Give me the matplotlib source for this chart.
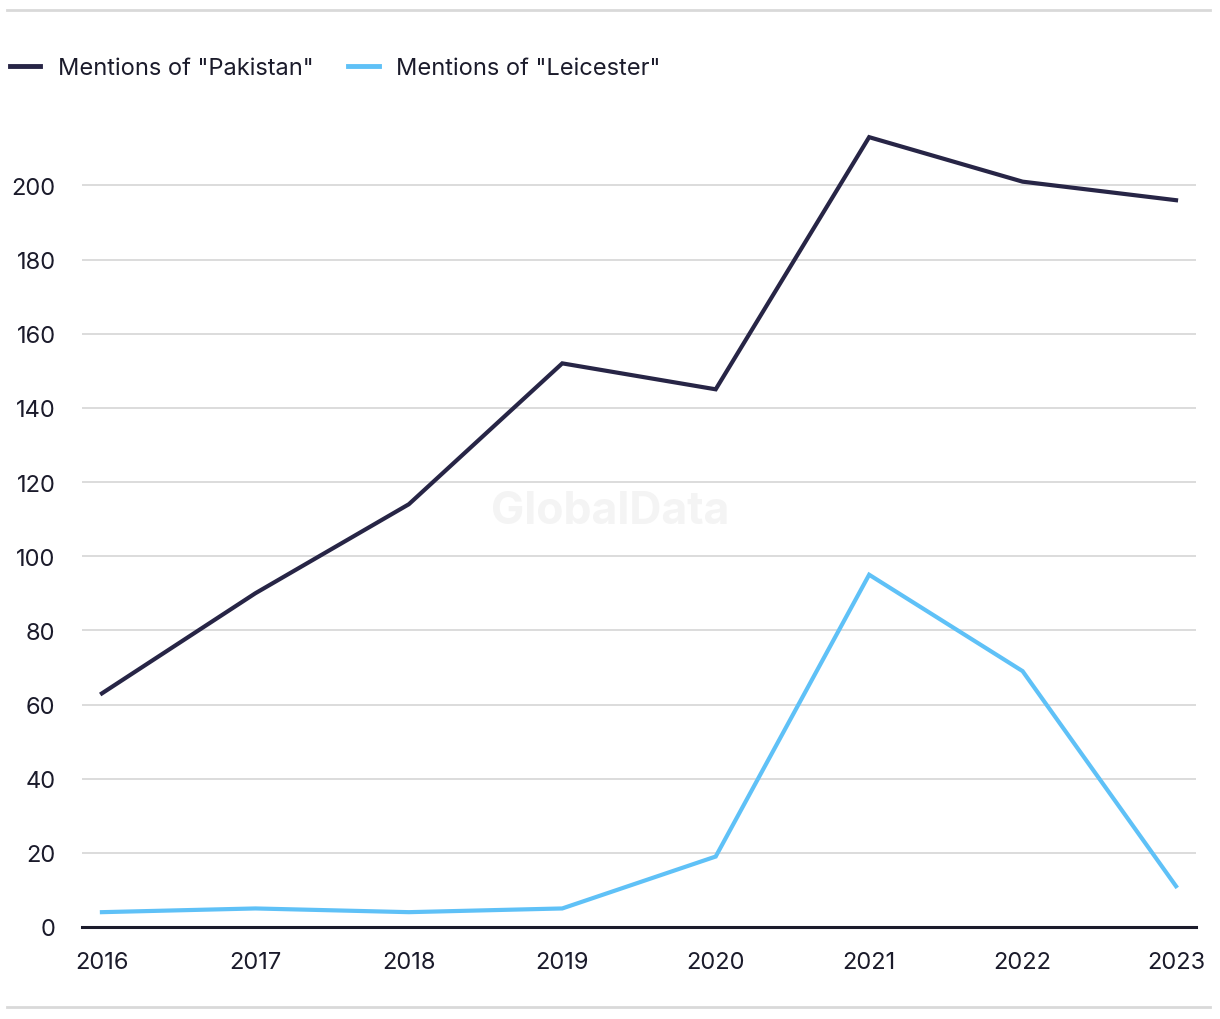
import matplotlib
matplotlib.use("Agg")
import matplotlib.pyplot as plt
from matplotlib.lines import Line2D

# Data
years = [2016, 2017, 2018, 2019, 2020, 2021, 2022, 2023]
pakistan = [63, 90, 114, 152, 145, 213, 201, 196]
leicester = [4, 5, 4, 5, 19, 95, 69, 11]
series_labels = ['Mentions of "Pakistan"', 'Mentions of "Leicester"']
yticks = [0, 20, 40, 60, 80, 100, 120, 140, 160, 180, 200]

dark = "#272546"
light = "#5fc1f7"
text_c = "#1b1b2b"

plt.rcParams["font.family"] = ["Inter", "DejaVu Sans"]

fig = plt.figure(figsize=(12.2, 10.2), dpi=100)
ax = fig.add_axes([0.0672, 0.0902, 0.9131, 0.7998])

ax.plot(years, pakistan, color=dark, lw=3, solid_joinstyle="miter")
ax.plot(years, leicester, color=light, lw=3, solid_joinstyle="miter")

ax.set_xlim(2015.87, 2023.13)
ax.set_ylim(0, 220)
ax.set_yticks(yticks)
ax.set_xticks(years)
ax.grid(axis="y", color="#d9d9d9", lw=1.3)
ax.set_axisbelow(True)
for s in ["top", "right", "left"]:
    ax.spines[s].set_visible(False)
ax.spines["bottom"].set_color(text_c)
ax.spines["bottom"].set_linewidth(2.2)
ax.tick_params(axis="both", length=0, labelsize=17, colors=text_c)
ax.tick_params(axis="y", pad=19)
ax.tick_params(axis="x", pad=17)

# watermark
fig.text(0.5, 0.498, "GlobalData", fontsize=32, fontweight="bold",
         color="#f4f4f4", ha="center", va="center", zorder=0)

# legend
handles = [Line2D([], [], color=dark, lw=3.5), Line2D([], [], color=light, lw=3.5)]
fig.legend(handles, series_labels, loc="center left", bbox_to_anchor=(0.008, 0.932),
           ncol=2, frameon=False, fontsize=17, handlelength=1.3, handletextpad=0.75,
           columnspacing=1.45, borderpad=0, borderaxespad=0, labelcolor=text_c)

# separator lines
fig.add_artist(Line2D([0.006, 0.992], [0.989, 0.989], color="#d9d9d9", lw=2))
fig.add_artist(Line2D([0.006, 0.992], [0.012, 0.012], color="#d9d9d9", lw=2))

fig.savefig("out.png", dpi=100)
